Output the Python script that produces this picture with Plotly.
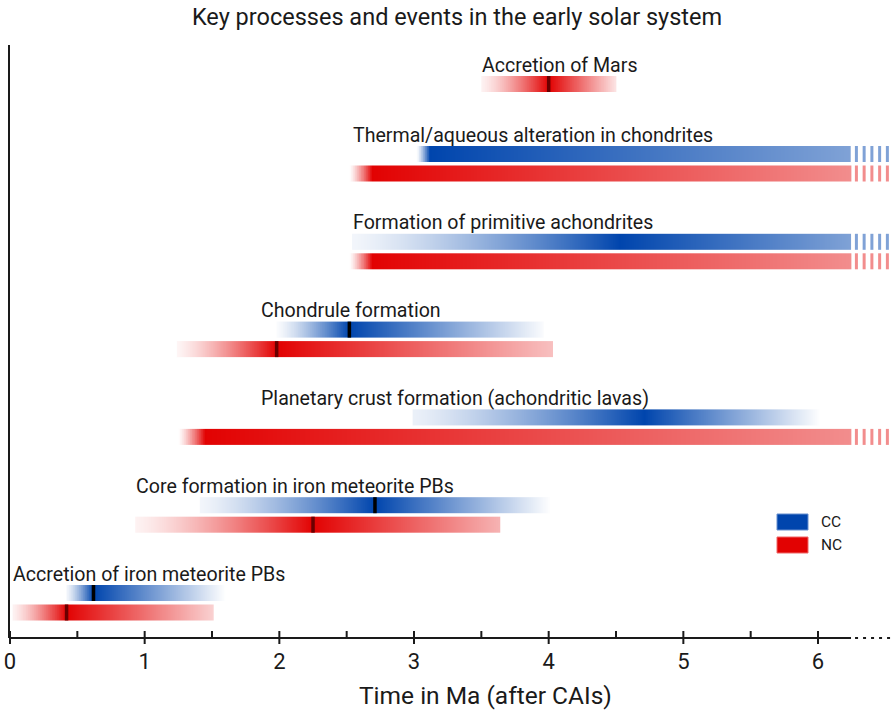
import numpy as np
import plotly.graph_objects as go

# ---------------- data (Ma after CAIs) ----------------
EVENTS = [
    "Accretion of Mars",
    "Thermal/aqueous alteration in chondrites",
    "Formation of primitive achondrites",
    "Chondrule formation",
    "Planetary crust formation (achondritic lavas)",
    "Core formation in iron meteorite PBs",
    "Accretion of iron meteorite PBs",
]
LABEL_X = [3.49, 2.53, 2.53, 1.85, 1.85, 0.92, 0.01]

# CC (carbonaceous) reservoir
CC_START = [None, 3.02, 2.54, 1.98, 2.99, 1.41, 0.42]
CC_PEAK = [None, 3.12, 4.53, 2.52, 4.71, 2.71, 0.62]
CC_END = [None, 6.245, 6.245, 3.96, 6.02, 4.02, 1.60]
CC_MARK = [None, None, None, 2.52, None, 2.71, 0.62]
CC_ONGOING = [False, True, True, False, False, False, False]

# NC (non-carbonaceous) reservoir
NC_START = [3.50, 2.52, 2.52, 1.24, 1.25, 0.93, 0.02]
NC_PEAK = [4.00, 2.69, 2.69, 1.98, 1.45, 2.25, 0.42]
NC_END = [4.50, 6.245, 6.245, 4.03, 6.245, 3.64, 1.51]
NC_MARK = [4.00, None, None, 1.98, None, 2.25, 0.42]
NC_ONGOING = [False, True, True, False, True, False, False]

TICK_VALUES = [0, 1, 2, 3, 4, 5, 6]
TICK_LABELS = ["0", "1", "2", "3", "4", "5", "6"]
MINOR_TICKS = [0.5, 1.5, 2.5, 3.5, 4.5, 5.5]
AXIS_BREAK = 6.245

# ---------------- styles ----------------
CC_COLOR = (0, 69, 173)
NC_COLOR = (226, 2, 2)
CC_MARK_COLOR = "#000000"
NC_MARK_COLOR = "#6a0000"
CC_A0 = [0, 0.0, 0.05, 0.02, 0.08, 0.05, 0.05]
CC_A1 = [0, 0.5, 0.5, 0.02, 0.0, 0.0, 0.0]
NC_A0 = [0.05, 0.0, 0.0, 0.04, 0.0, 0.05, 0.05]
NC_A1 = [0.10, 0.45, 0.45, 0.25, 0.45, 0.30, 0.18]
TXT = "#1a1a1a"
FONT = "Roboto"

# layout geometry (y axis in px-like units from top of page)
W, H = 895, 718
ML, MR, MT, MB = 10, 0, 45, 80
PX_PER_MA = 134.67
X_MAX = (W - ML - MR) / PX_PER_MA
Y_BOTTOM = H - MB
PLOT_H = H - MT - MB
ROW_PITCH = 87.8
BOTTOM_ROW = 593.0
MARS_ROW = 84.0
PAIR_GAP = 19.5
BAR_H = 16.0
LABEL_OFF = 19.0


def rgb(c, a=1.0):
    r, g, b = [round(255 - (255 - v) * a) for v in c]
    return f"rgb({r},{g},{b})"


def profile(x, s, p, e, a0, a1, power=1.3):
    tl = np.clip((x - s) / (p - s), 0, 1)
    tr = np.clip((x - p) / (e - p), 0, 1)
    return np.where(x < p, a0 + (1 - a0) * tl ** power, 1 - (1 - a1) * tr)


fig = go.Figure()
n = len(EVENTS)
first_y = []
mark_cc = ([], [])
mark_nc = ([], [])
dash_cc = ([], [])
dash_nc = ([], [])
DASH_X = [6.285 + 0.0575 * k for k in range(5)]

for i in range(n):
    if i == 0:
        cc_y = None
        nc_y = MARS_ROW
        top = MARS_ROW
    else:
        cc_y = BOTTOM_ROW - ROW_PITCH * (n - 1 - i)
        nc_y = cc_y + PAIR_GAP
        top = cc_y
    first_y.append(top)
    for (y, S, P, E, M, ONG, A0, A1, col, marks, dashes) in [
        (cc_y, CC_START, CC_PEAK, CC_END, CC_MARK, CC_ONGOING, CC_A0, CC_A1, CC_COLOR, mark_cc, dash_cc),
        (nc_y, NC_START, NC_PEAK, NC_END, NC_MARK, NC_ONGOING, NC_A0, NC_A1, NC_COLOR, mark_nc, dash_nc),
    ]:
        if y is None or S[i] is None:
            continue
        edges = np.arange(S[i], E[i] + 1e-9, 0.005)
        centers = (edges[:-1] + edges[1:]) / 2
        z = profile(centers, S[i], P[i], E[i], A0[i], A1[i])
        fig.add_trace(go.Heatmap(
            x=edges, y=[y - BAR_H / 2, y + BAR_H / 2], z=[z],
            zmin=0, zmax=1, zsmooth=False, showscale=False, hoverinfo="skip",
            colorscale=[[0, "rgb(255,255,255)"], [1, rgb(col)]],
        ))
        if M[i] is not None:
            marks[0].extend([M[i], M[i], None])
            marks[1].extend([y - BAR_H / 2, y + BAR_H / 2, None])
        if ONG[i]:
            for d in DASH_X:
                dashes[0].extend([d, d, None])
                dashes[1].extend([y - BAR_H / 2, y + BAR_H / 2, None])

for (xy, c) in [(mark_cc, CC_MARK_COLOR), (mark_nc, NC_MARK_COLOR)]:
    fig.add_trace(go.Scatter(x=xy[0], y=xy[1], mode="lines", line=dict(color=c, width=3.5),
                             hoverinfo="skip", showlegend=False))
for (xy, c) in [(dash_cc, rgb(CC_COLOR, 0.5)), (dash_nc, rgb(NC_COLOR, 0.45))]:
    fig.add_trace(go.Scatter(x=xy[0], y=xy[1], mode="lines", line=dict(color=c, width=3),
                             hoverinfo="skip", showlegend=False))

annotations = []
for i in range(n):
    annotations.append(dict(
        x=LABEL_X[i], y=first_y[i] - LABEL_OFF, xref="x", yref="y", text=EVENTS[i],
        showarrow=False, xanchor="left", yanchor="middle",
        font=dict(family=FONT, size=19.6, color=TXT)))

# axis title
annotations.append(dict(
    x=(485 - ML) / (W - ML - MR), y=(Y_BOTTOM - 695) / PLOT_H, xref="paper", yref="paper",
    text="Time in Ma (after CAIs)", showarrow=False, xanchor="center", yanchor="middle",
    font=dict(family=FONT, size=24.5, color=TXT)))

shapes = []
# x axis: solid then dotted beyond break
shapes.append(dict(type="line", xref="paper", yref="paper", x0=0, x1=AXIS_BREAK / X_MAX, y0=0, y1=0,
                   line=dict(color=TXT, width=2)))
shapes.append(dict(type="line", xref="paper", yref="paper", x0=(AXIS_BREAK + 0.03) / X_MAX,
                   x1=6.56 / X_MAX, y0=0, y1=0, line=dict(color=TXT, width=2, dash="3px,5px")))
for t in TICK_VALUES:
    shapes.append(dict(type="line", xref="paper", yref="paper", x0=t / X_MAX, x1=t / X_MAX,
                       y0=-6 / PLOT_H, y1=7 / PLOT_H, line=dict(color=TXT, width=2)))
for t in MINOR_TICKS:
    shapes.append(dict(type="line", xref="paper", yref="paper", x0=t / X_MAX, x1=t / X_MAX,
                       y0=0, y1=7 / PLOT_H, line=dict(color=TXT, width=2)))

# legend
for name, col, y0px in [("CC", CC_COLOR, 514), ("NC", NC_COLOR, 537)]:
    shapes.append(dict(type="rect", xref="paper", yref="paper",
                       x0=(777 - ML) / (W - ML), x1=(808 - ML) / (W - ML),
                       y0=(Y_BOTTOM - y0px - 16) / PLOT_H, y1=(Y_BOTTOM - y0px) / PLOT_H,
                       fillcolor=rgb(col), line=dict(color=rgb(col, 0.6), width=1)))
    annotations.append(dict(x=(819 - ML) / (W - ML), y=(Y_BOTTOM - y0px - 8) / PLOT_H,
                            xref="paper", yref="paper", text=name, showarrow=False,
                            xanchor="left", yanchor="middle",
                            font=dict(family=FONT, size=15.5, color=TXT)))

fig.update_layout(
    width=W, height=H,
    margin=dict(l=ML, r=MR, t=MT, b=MB),
    paper_bgcolor="white", plot_bgcolor="white",
    showlegend=False,
    title=dict(text="Key processes and events in the early solar system",
               x=457 / W, xref="container", xanchor="center",
               y=1 - 17 / H, yref="container", yanchor="middle",
               font=dict(family=FONT, size=23.5, color=TXT)),
    xaxis=dict(range=[0, X_MAX], showgrid=False, zeroline=False, showline=False,
               tickvals=TICK_VALUES, ticktext=TICK_LABELS, ticks="",
               ticklabelstandoff=8,
               tickfont=dict(family=FONT, size=22, color=TXT), fixedrange=True),
    yaxis=dict(range=[Y_BOTTOM, MT], showgrid=False, zeroline=False, showticklabels=False,
               ticks="", showline=True, linewidth=2, linecolor=TXT, fixedrange=True),
    shapes=shapes, annotations=annotations,
)

fig.write_html("out.html")
